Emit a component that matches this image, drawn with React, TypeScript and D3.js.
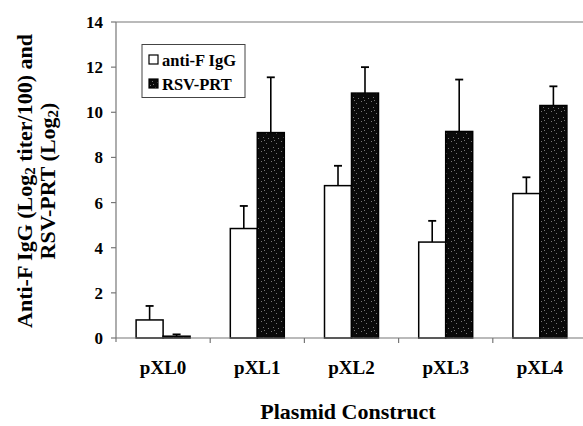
import React from 'react';
import * as d3 from 'd3';

const categories = ['pXL0', 'pXL1', 'pXL2', 'pXL3', 'pXL4'];
const antiF = [0.8, 4.85, 6.75, 4.25, 6.4];
const antiFErr = [0.62, 1.0, 0.88, 0.94, 0.72];
const prt = [0.08, 9.1, 10.85, 9.15, 10.3];
const prtErr = [0.08, 2.45, 1.15, 2.3, 0.85];
const yTicks = [0, 2, 4, 6, 8, 10, 12, 14];
const seriesNames = ['anti-F IgG', 'RSV-PRT'];

const W = 583;
const H = 426;
const left = 116;
const right = 587;
const top = 22;
const bottom = 338;
const FONT = '"Liberation Serif", "Times New Roman", serif';

// stipple dots for the dark bars (fixed layout inside the pattern tile)
const dots = [
  [1, 1], [6, 3], [3, 7], [8, 8], [4, 0],
];

export default function App() {
  const x = d3.scaleBand().domain(categories).range([left, right]).padding(0);
  const xs = d3
    .scaleBand()
    .domain(['a', 'p'])
    .range([0, x.bandwidth()])
    .paddingInner(0)
    .paddingOuter(0.745);
  const y = d3.scaleLinear().domain([0, 14]).range([bottom, top]);

  const bars: { k: string; cat: string; v: number; e: number }[] = [];
  categories.forEach((c, i) => {
    bars.push({ k: 'a', cat: c, v: antiF[i], e: antiFErr[i] });
    bars.push({ k: 'p', cat: c, v: prt[i], e: prtErr[i] });
  });

  return (
    <svg
      width={W}
      height={H}
      style={{ position: 'absolute', left: 0, top: 0, background: '#fff' }}
      fontFamily={FONT}
    >
      <defs>
        <pattern id="stip" width={10} height={10} patternUnits="userSpaceOnUse">
          <rect width={10} height={10} fill="#0a0a0a" />
          {dots.map(([dx, dy], i) => (
            <rect key={i} x={dx} y={dy} width={1} height={1} fill="#777" />
          ))}
        </pattern>
      </defs>

      {/* plot frame top line */}
      <line x1={left} x2={W} y1={top} y2={top} stroke="#777" strokeWidth={1.2} />

      {/* y axis */}
      <line x1={left} x2={left} y1={top} y2={bottom + 4} stroke="#777" strokeWidth={1.2} />
      {yTicks.map((t) => (
        <g key={t}>
          <line x1={left - 5} x2={left} y1={y(t)} y2={y(t)} stroke="#777" strokeWidth={1.2} />
          <text
            x={103}
            y={y(t)}
            dy="0.35em"
            textAnchor="end"
            fontSize={17}
            fontWeight="bold"
          >
            {t}
          </text>
        </g>
      ))}

      {/* bars */}
      {bars.map((b, i) => {
        const bx = (x(b.cat) as number) + (xs(b.k) as number);
        const bw = xs.bandwidth();
        const cx = bx + bw / 2;
        const yTop = y(b.v);
        const yErr = y(b.v + b.e);
        return (
          <g key={i}>
            <line x1={cx} x2={cx} y1={yTop} y2={yErr} stroke="#000" strokeWidth={1.6} />
            <line x1={cx - 4} x2={cx + 4} y1={yErr} y2={yErr} stroke="#000" strokeWidth={1.8} />
            <rect
              x={bx}
              y={yTop}
              width={bw}
              height={bottom - yTop}
              fill={b.k === 'a' ? '#fff' : 'url(#stip)'}
              stroke="#000"
              strokeWidth={1.5}
            />
          </g>
        );
      })}

      {/* x axis */}
      <line x1={left} x2={W} y1={bottom} y2={bottom} stroke="#777" strokeWidth={1.2} />
      {categories.slice(1).map((c) => (
        <line
          key={c}
          x1={x(c) as number}
          x2={x(c) as number}
          y1={bottom}
          y2={bottom + 5}
          stroke="#777"
          strokeWidth={1.2}
        />
      ))}
      {categories.map((c) => (
        <text
          key={c}
          x={(x(c) as number) + x.bandwidth() / 2}
          y={374}
          textAnchor="middle"
          fontSize={19}
          fontWeight="bold"
        >
          {c}
        </text>
      ))}

      {/* axis titles */}
      <text x={348} y={419} textAnchor="middle" fontSize={22} fontWeight="bold">
        Plasmid Construct
      </text>
      <g transform="translate(32,181) rotate(-90)" fontSize={22} fontWeight="bold">
        <text x={0} y={0} textAnchor="middle">
          Anti-F IgG (Log
          <tspan fontSize={15} dy={3}>2</tspan>
          <tspan dy={-3}> titer/100) and</tspan>
        </text>
        <text x={0} y={23} textAnchor="middle">
          RSV-PRT (Log
          <tspan fontSize={15} dy={3}>2</tspan>
          <tspan dy={-3}>)</tspan>
        </text>
      </g>

      {/* legend */}
      <rect x={142} y={44.5} width={103} height={53} fill="#fff" stroke="#444" strokeWidth={1} />
      {seriesNames.map((s, i) => (
        <g key={s} transform={`translate(149,${60 + i * 24})`}>
          <rect
            x={0}
            y={-5}
            width={9}
            height={9}
            fill={i === 0 ? '#fff' : 'url(#stip)'}
            stroke="#000"
            strokeWidth={1.2}
          />
          <text x={13} y={0} dy="0.35em" fontSize={16.5} fontWeight="bold">
            {s}
          </text>
        </g>
      ))}
    </svg>
  );
}
